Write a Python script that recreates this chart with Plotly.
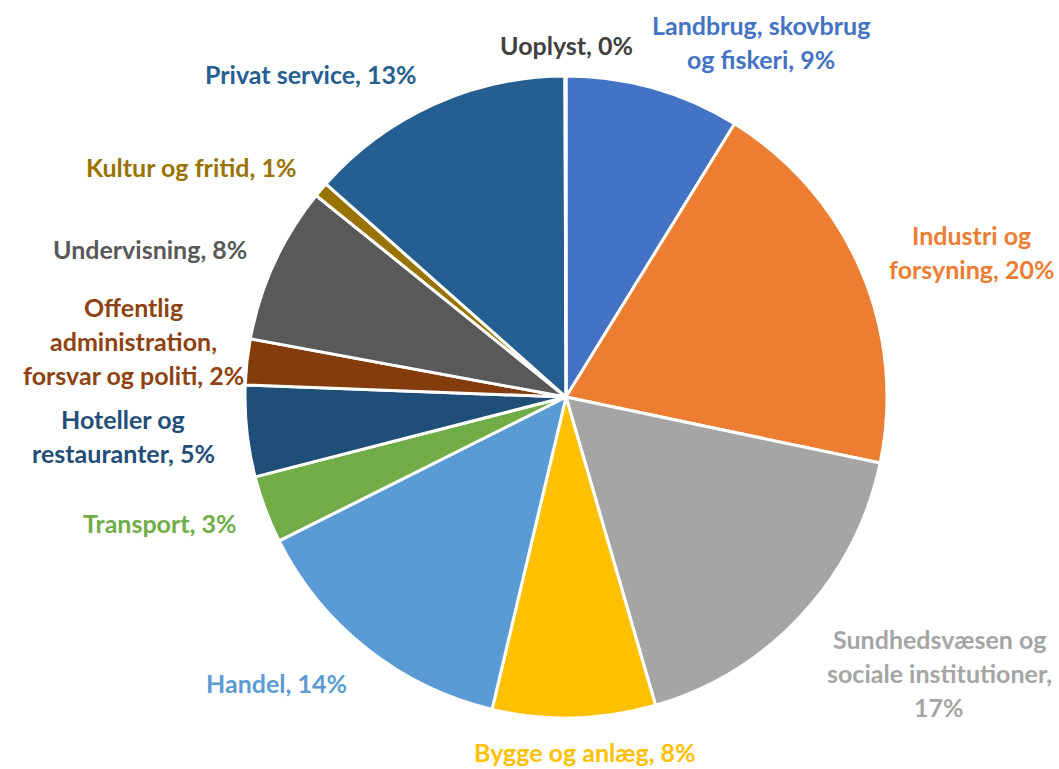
import plotly.graph_objects as go

categories = ["Landbrug, skovbrug og fiskeri", "Industri og forsyning",
              "Sundhedsvæsen og sociale institutioner", "Bygge og anlæg", "Handel",
              "Transport", "Hoteller og restauranter",
              "Offentlig administration, forsvar og politi", "Undervisning",
              "Kultur og fritid", "Privat service", "Uoplyst"]
values = [8.8, 19.5, 17.2, 8.2, 13.9, 3.4, 4.6, 2.3, 7.9, 0.75, 13.4, 0.05]
pct_labels = ["9%", "20%", "17%", "8%", "14%", "3%", "5%", "2%", "8%", "1%", "13%", "0%"]

slice_colors = ["#4472C4", "#ED7D31", "#A5A5A5", "#FFC000", "#5B9BD5", "#70AD47",
                "#1F4E79", "#843C0C", "#595959", "#997300", "#255E91", "#404040"]
label_colors = ["#4472C4", "#ED7D31", "#A5A5A5", "#FFC000", "#5B9BD5", "#70AD47",
                "#1F4E79", "#8E4211", "#595959", "#997300", "#255E91", "#404040"]

# label line breaks and placement (pixel centers of each line)
label_lines = [
    ["Landbrug, skovbrug", "og fiskeri, {p}"],
    ["Industri og", "forsyning, {p}"],
    ["Sundhedsvæsen og", "sociale institutioner,", "{p}"],
    ["Bygge og anlæg, {p}"],
    ["Handel, {p}"],
    ["Transport, {p}"],
    ["Hoteller og", "restauranter, {p}"],
    ["Offentlig", "administration,", "forsvar og politi, {p}"],
    ["Undervisning, {p}"],
    ["Kultur og fritid, {p}"],
    ["Privat service, {p}"],
    ["Uoplyst, {p}"],
]
label_pos = [(761, 25), (971, 235), (939, 639), (585, 752), (276, 683), (160, 523),
             (123, 419), (133, 307), (150, 249), (191, 167), (311, 74), (566, 45)]
line_gap = 34

W, H = 1059, 769

fig = go.Figure(go.Pie(
    labels=categories,
    values=values,
    sort=False,
    direction="clockwise",
    rotation=0,
    marker=dict(colors=slice_colors, line=dict(color="white", width=3)),
    textinfo="none",
    hoverinfo="label+percent",
    showlegend=False,
    domain=dict(x=[245 / W, 887 / W], y=[1 - 718 / H, 1 - 76 / H]),
))

annotations = []
for lines, (cx, cy), col, p in zip(label_lines, label_pos, label_colors, pct_labels):
    for i, ln in enumerate(lines):
        annotations.append(dict(
            x=cx / W, y=1 - (cy + i * line_gap) / H, xref="paper", yref="paper",
            text="<b>" + ln.format(p=p) + "</b>", showarrow=False,
            xanchor="center", yanchor="middle",
            font=dict(family="Lato", size=25, color=col),
        ))

fig.update_layout(
    width=W, height=H,
    margin=dict(l=0, r=0, t=0, b=0),
    paper_bgcolor="white", plot_bgcolor="white",
    annotations=annotations,
)

fig.write_html("out.html")
